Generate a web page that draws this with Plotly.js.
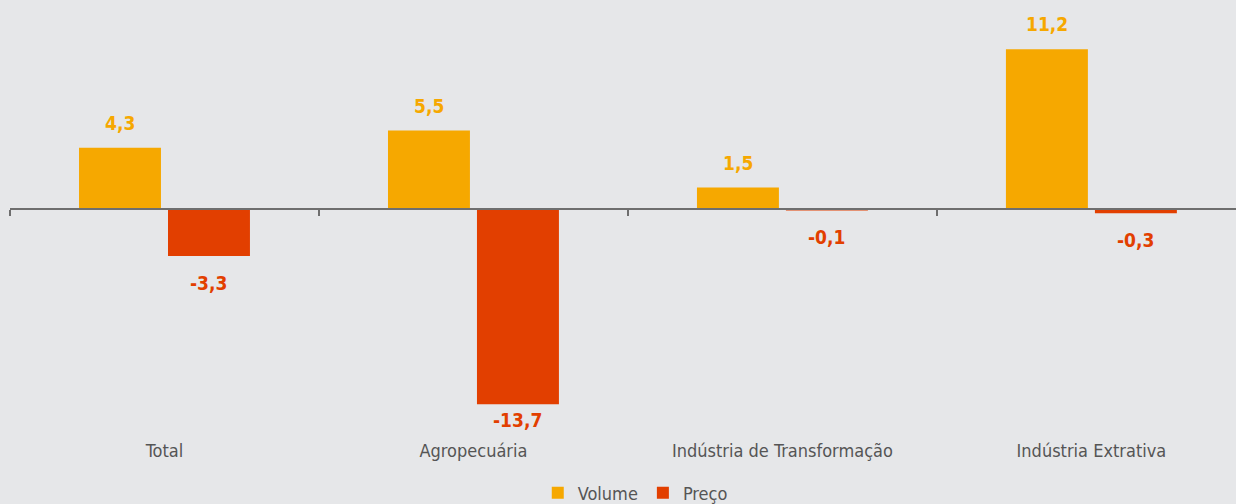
<!DOCTYPE html>
<html>
<head>
<meta charset="utf-8">
<script src="https://cdn.plot.ly/plotly-3.0.1.min.js"></script>
<style>
html,body{margin:0;padding:0;background:#e6e7e9;}
#chart{width:1236px;height:504px;}
</style>
</head>
<body>
<div id="chart"></div>
<script>
const categories = ["Total", "Agropecuária", "Indústria de Transformação", "Indústria Extrativa"];
const volume = [4.3, 5.5, 1.5, 11.2];
const preco = [-3.3, -13.7, -0.1, -0.3];
const seriesNames = ["Volume", "Preço"];

const colVolume = "#f6a800";
const colPreco = "#e23f00";
const FONT = '"Liberation Sans Narrow", "DejaVu Sans Condensed", Roboto, sans-serif';

const yMin = -15.86, yMax = 13.26;
const fmt = v => v.toFixed(1).replace(".", ",");

const traces = [
  {type: "bar", name: seriesNames[0], x: categories, y: volume, marker: {color: colVolume}, hoverinfo: "x+y"},
  {type: "bar", name: seriesNames[1], x: categories, y: preco, marker: {color: colPreco}, hoverinfo: "x+y"},
  {type: "scatter", x: [], y: [], xaxis: "x2", yaxis: "y", mode: "none", showlegend: false, hoverinfo: "skip"}
];

const off = 0.144;
const annotations = [];
volume.forEach((v, i) => annotations.push({
  x: i - off, y: v, xref: "x", yref: "y", text: "<b>" + fmt(v) + "</b>", showarrow: false,
  yanchor: "middle", yshift: 25, font: {family: FONT, size: 19, color: colVolume}
}));
preco.forEach((v, i) => annotations.push({
  x: i + off, y: v, xref: "x", yref: "y", text: "<b>" + fmt(v) + "</b>", showarrow: false,
  yanchor: "middle", yshift: v < -10 ? -16 : -27, font: {family: FONT, size: 19, color: colPreco}
}));

const layout = {
  width: 1236, height: 504,
  paper_bgcolor: "#e6e7e9", plot_bgcolor: "#e6e7e9",
  margin: {l: 10, r: 0, t: 20, b: 69, autoexpand: false},
  barmode: "group", bargap: 0.424, bargroupgap: 0.079,
  font: {family: FONT, size: 16, color: "#555555"},
  xaxis: {
    type: "category", categoryarray: categories, range: [-0.5, 3.468],
    showline: false, ticks: "", showgrid: false, zeroline: false, automargin: false,
    ticklabelstandoff: 3,
    tickfont: {family: FONT, size: 18, color: "#555555"}
  },
  xaxis2: {
    type: "category", categoryarray: categories, overlaying: "x", anchor: "free",
    position: (0 - yMin) / (yMax - yMin), range: [-0.5, 3.468],
    showline: true, linecolor: "#6e6e6e", linewidth: 2,
    ticks: "outside", tickson: "boundaries", ticklen: 6, tickwidth: 1.5, tickcolor: "#6e6e6e",
    showticklabels: false, showgrid: false, zeroline: false
  },
  yaxis: {range: [yMin, yMax], visible: false, showgrid: false, zeroline: false, automargin: false},
  showlegend: true,
  legend: {
    orientation: "h", x: 0.51, xanchor: "center", y: -0.14, yanchor: "middle",
    font: {family: FONT, size: 18, color: "#555555"}, itemwidth: 30, bgcolor: "rgba(0,0,0,0)"
  },
  annotations: annotations
};

Plotly.newPlot("chart", traces, layout, {displayModeBar: false, staticPlot: true});
</script>
</body>
</html>
